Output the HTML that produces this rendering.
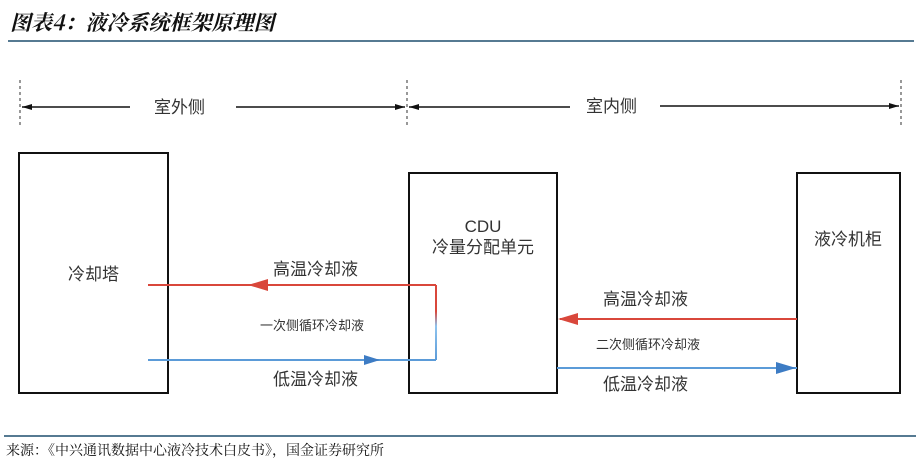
<!DOCTYPE html>
<html><head><meta charset="utf-8"><style>
body{margin:0;width:922px;height:465px;background:#fff;overflow:hidden}
svg text{font-family:"Liberation Sans","Noto Sans CJK SC",sans-serif;fill:#333}
</style></head><body>
<svg width="922" height="465" viewBox="0 0 922 465" xmlns="http://www.w3.org/2000/svg">
<defs>
<marker id="ak" markerWidth="10" markerHeight="6" refX="10" refY="3" orient="auto" markerUnits="userSpaceOnUse"><path d="M0,0L10,3L0,6z" fill="#111"/></marker>
<linearGradient id="g" gradientUnits="userSpaceOnUse" x1="0" y1="285" x2="0" y2="360"><stop offset="0.35" stop-color="#d9473b"/><stop offset="0.55" stop-color="#8ec3ee"/><stop offset="1" stop-color="#5b9bd8"/></linearGradient>
</defs>
<text x="10" y="30" style="font-family:'Noto Serif CJK SC',serif;font-style:italic;font-weight:bold;font-size:21px;fill:#111">图表4：液冷系统框架原理图</text>
<line x1="8" y1="41" x2="914" y2="41" stroke="#1f4e6e" stroke-width="1.5"/>
<g stroke="#555" stroke-dasharray="3,3" stroke-width="1.2">
<line x1="20" y1="80" x2="20" y2="128"/><line x1="407" y1="80" x2="407" y2="128"/><line x1="901" y1="80" x2="901" y2="128"/>
</g>
<g stroke="#111" stroke-width="1.5">
<line x1="130" y1="107" x2="22" y2="107" marker-end="url(#ak)"/>
<line x1="236" y1="107" x2="405" y2="107" marker-end="url(#ak)"/>
<line x1="570" y1="107" x2="409" y2="107" marker-end="url(#ak)"/>
<line x1="660" y1="106" x2="899" y2="106" marker-end="url(#ak)"/>
</g>
<text x="154" y="113" font-size="17">室外侧</text>
<text x="586" y="112" font-size="17">室内侧</text>
<g fill="none" stroke="#111" stroke-width="2">
<rect x="19" y="153" width="149" height="240"/>
<rect x="409" y="173" width="148" height="220"/>
<rect x="797" y="173" width="103" height="220"/>
</g>
<line x1="148" y1="285" x2="436" y2="285" stroke="#d9473b" stroke-width="2"/>
<rect x="435" y="285" width="2" height="75" fill="url(#g)"/>
<line x1="148" y1="360" x2="436" y2="360" stroke="#5b9bd8" stroke-width="2"/>
<path d="M364,355L380,360L364,365z" fill="#3d7cc4"/>
<path d="M248,285L268,279L268,291z" fill="#d9473b"/>
<line x1="560" y1="319" x2="797" y2="319" stroke="#d9473b" stroke-width="2"/>
<path d="M558,319L578,313L578,325z" fill="#d9473b"/>
<line x1="557" y1="368" x2="797" y2="368" stroke="#5b9bd8" stroke-width="2"/>
<path d="M776,362L796,368L776,374z" fill="#3d7cc4"/>
<text x="68" y="280" font-size="17">冷却塔</text>
<text x="483" y="232" font-size="17" text-anchor="middle">CDU</text>
<text x="483" y="253" font-size="17" text-anchor="middle">冷量分配单元</text>
<text x="814" y="245" font-size="17">液冷机柜</text>
<text x="273" y="275" font-size="17">高温冷却液</text>
<text x="260" y="330" font-size="13">一次侧循环冷却液</text>
<text x="273" y="385" font-size="17">低温冷却液</text>
<text x="603" y="305" font-size="17">高温冷却液</text>
<text x="596" y="349" font-size="13">二次侧循环冷却液</text>
<text x="603" y="390" font-size="17">低温冷却液</text>
<line x1="4" y1="436" x2="916" y2="436" stroke="#1f4e6e" stroke-width="1.5"/>
<text x="6" y="455" style="font-family:'Noto Serif CJK SC',serif;font-size:14px;fill:#111">来源：《中兴通讯数据中心液冷技术白皮书》，国金证券研究所</text>
</svg>
</body></html>
